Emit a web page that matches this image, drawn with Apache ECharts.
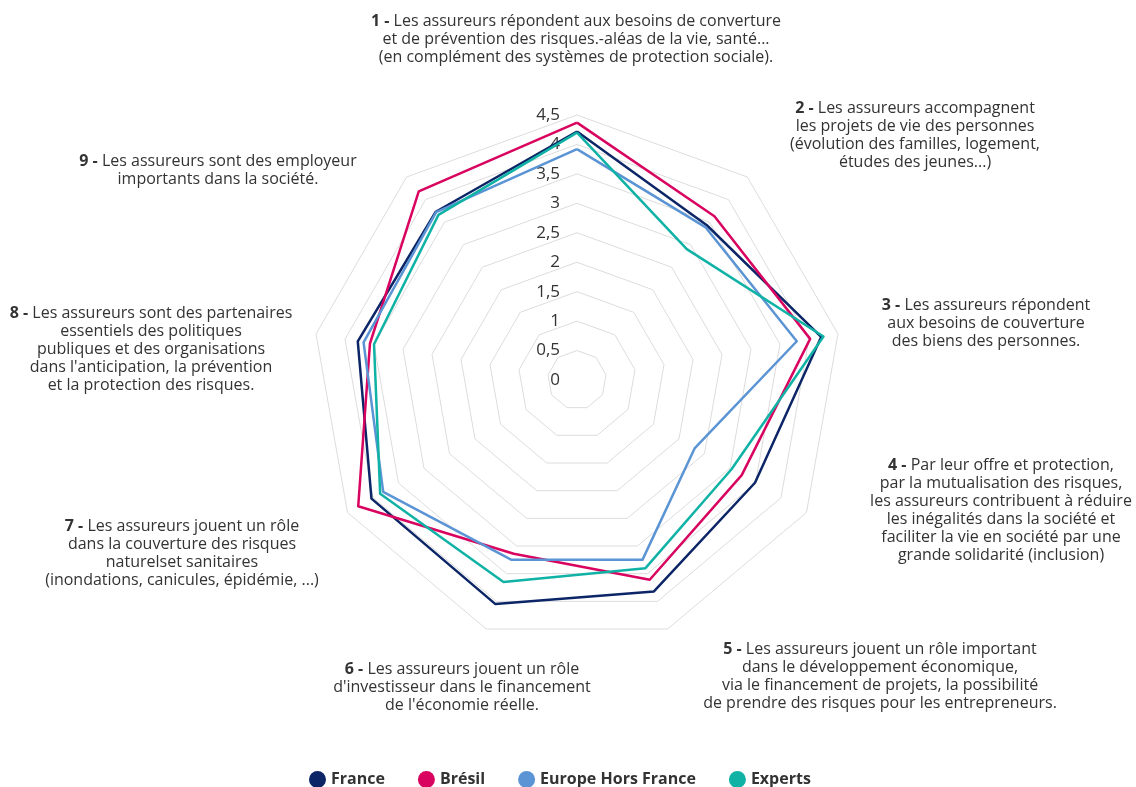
<!DOCTYPE html>
<html>
<head>
<meta charset="utf-8">
<script src="https://cdn.jsdelivr.net/npm/echarts@6/dist/echarts.min.js"></script>
<style>
  html, body { margin: 0; padding: 0; background: #fff; }
  #chart { width: 1136px; height: 787px; }
</style>
</head>
<body>
<div id="chart"></div>
<script>
// les 9 affirmations (axes du radar), dans le sens horaire depuis le haut
var questions = [
    '{b|1 -} Les assureurs répondent aux besoins de converture\net de prévention des risques.-aléas de la vie, santé...\n(en complément des systèmes de protection sociale).',
    '{b|2 -} Les assureurs accompagnent\nles projets de vie des personnes\n(évolution des familles, logement,\nétudes des jeunes...)',
    '{b|3 -} Les assureurs répondent\naux besoins de couverture\ndes biens des personnes.',
    '{b|4 -} Par leur offre et protection,\npar la mutualisation des risques,\nles assureurs contribuent à réduire\nles inégalités dans la société et\nfaciliter la vie en société par une\ngrande solidarité (inclusion)',
    '{b|5 -} Les assureurs jouent un rôle important\ndans le développement économique,\nvia le financement de projets, la possibilité\nde prendre des risques pour les entrepreneurs.',
    '{b|6 -} Les assureurs jouent un rôle\nd\'investisseur dans le financement\nde l\'économie réelle.',
    '{b|7 -} Les assureurs jouent un rôle\ndans la couverture des risques\nnaturelset sanitaires\n(inondations, canicules, épidémie, ...)',
    '{b|8 -} Les assureurs sont des partenaires\nessentiels des politiques\npubliques et des organisations\ndans l\'anticipation, la prévention\net la protection des risques.',
    '{b|9 -} Les assureurs sont des employeur\nimportants dans la société.'
];

// notes moyennes par population (ordre des questions 1..9)
var france  = [4.22, 3.43, 4.21, 3.49, 3.82, 4.05, 4.03, 3.78, 3.73];
var bresil  = [4.37, 3.63, 4.02, 3.23, 3.61, 3.14, 4.29, 3.57, 4.18];
var europe  = [3.92, 3.39, 3.79, 2.31, 3.25, 3.25, 3.80, 3.68, 3.72];
var experts = [4.20, 2.90, 4.25, 3.03, 3.40, 3.65, 3.86, 3.50, 3.66];

var seriesNames = ['France', 'Brésil', 'Europe Hors France', 'Experts'];
var colors = ['#0b2566', '#d8045f', '#5b94d4', '#10b2a6'];

// position du centre de chaque libellé (x, haut)
var labelPos = [
    [576, 12], [915, 99], [986, 296], [1001, 456], [880, 640],
    [462, 660], [182, 517], [151, 304], [218, 152]
];

var myChart = echarts.init(document.getElementById('chart'));

// echarts tourne dans le sens anti-horaire : on inverse l'ordre (1, 9, 8, ... 2)
var order = [0, 8, 7, 6, 5, 4, 3, 2, 1];
function reorder(arr) {
    return order.map(function (k) { return arr[k]; });
}

var indicators = order.map(function (k, i) {
    var ind = { name: 'Q' + (k + 1), min: 0, max: 4.5 };
    if (i === 0) {
        ind.axisLabel = { show: true };
    }
    return ind;
});

var graphics = questions.map(function (q, i) {
    return {
        type: 'text',
        x: labelPos[i][0],
        y: labelPos[i][1],
        style: {
            text: q,
            align: 'center',
            textAlign: 'center',
            verticalAlign: 'top',
            fill: '#333',
            fontFamily: 'Open Sans',
            fontSize: 16,
            lineHeight: 18,
            rich: {
                b: { fontWeight: 'bold', fill: '#333', fontFamily: 'Open Sans', fontSize: 16, lineHeight: 18 }
            }
        }
    };
});

var option = {
    color: colors,
    textStyle: { fontFamily: 'Open Sans' },
    legend: {
        data: seriesNames,
        top: 766,
        left: 304,
        icon: 'circle',
        itemWidth: 17,
        itemHeight: 17,
        itemGap: 33,
        textStyle: { fontSize: 16, fontWeight: 'bold', color: '#333', fontFamily: 'Open Sans' }
    },
    graphic: graphics,
    radar: {
        center: [577, 380],
        radius: 265,
        shape: 'polygon',
        splitNumber: 9,
        startAngle: 90,
        indicator: indicators,
        axisName: { show: false },
        axisLine: { show: false },
        axisTick: { show: false },
        axisLabel: {
            show: false,
            color: '#333',
            fontSize: 17,
            margin: 17,
            formatter: function (v) { return String(v).replace('.', ','); }
        },
        splitLine: { lineStyle: { color: '#dcdcdc', width: 1 } },
        splitArea: { show: false }
    },
    series: [{
        type: 'radar',
        symbol: 'none',
        lineStyle: { width: 2.5 },
        data: [
            { name: seriesNames[0], value: reorder(france) },
            { name: seriesNames[1], value: reorder(bresil) },
            { name: seriesNames[2], value: reorder(europe) },
            { name: seriesNames[3], value: reorder(experts) }
        ]
    }]
};

myChart.setOption(option);
</script>
</body>
</html>
